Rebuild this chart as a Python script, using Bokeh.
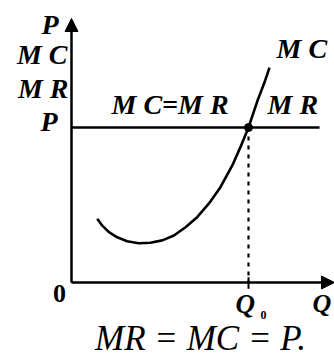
from bokeh.plotting import figure
from bokeh.models import Range1d, Label, Arrow, NormalHead
from bokeh.embed import file_html
from bokeh.resources import INLINE

# ---- data (model units) ----
mc_q = [1.02, 1.21, 1.48, 1.81, 2.20, 2.66, 3.12, 3.59, 4.05, 4.51, 4.97, 5.43, 5.89, 6.36,
        6.68, 7.0, 7.36, 7.63, 7.83]
mc_p = [2.47, 2.21, 1.95, 1.75, 1.60, 1.52, 1.54, 1.63, 1.82, 2.14, 2.53, 3.05, 3.69, 4.53,
        5.24, 6.0, 7.05, 7.74, 8.32]
price = 6.0          # P = MR level
q_star = 7.0         # Q0
mr_q = [0.0, 9.81]   # extent of MR line
axis_q_max = 10.40
axis_p_max = 10.22

# ---- layout helpers ----
W, H = 334, 360
SX, SY = 25.286, 25.833      # px per unit
OX, OY = 71, 282             # origin in picture pixels

def px(x, y):
    """picture pixel (from top-left) to data"""
    return (x - OX) / SX, (OY - y) / SY

x0, y1 = px(0, 0)
x1, y0 = px(W, H)

p = figure(width=W, height=H, x_range=Range1d(x0, x1), y_range=Range1d(y0, y1),
           output_backend="svg", toolbar_location=None, min_border=0)
p.axis.visible = False
p.grid.visible = False
p.outline_line_color = None
p.background_fill_color = "white"

BLACK = "black"

# axes with arrows
p.add_layout(Arrow(end=NormalHead(size=13, fill_color=BLACK, line_color=BLACK, line_width=1),
                   x_start=0, y_start=0, x_end=0, y_end=axis_p_max,
                   line_width=2.5, line_color=BLACK))
p.add_layout(Arrow(end=NormalHead(size=13, fill_color=BLACK, line_color=BLACK, line_width=1),
                   x_start=0, y_start=0, x_end=axis_q_max, y_end=0,
                   line_width=2.5, line_color=BLACK))

# MR = P horizontal line
p.line(mr_q, [price, price], line_width=2.5, line_color=BLACK)

# MC curve
p.line(mc_q, mc_p, line_width=2.6, line_color=BLACK, line_join="round")

# dotted drop line to Q0
p.line([q_star, q_star], [price, 0], line_width=2.2, line_color=BLACK, line_dash="4 5")
# tick at Q0
p.line([q_star, q_star], [0.2, -0.24], line_width=2, line_color=BLACK)

# equilibrium point
p.scatter([q_star], [price], size=8, color=BLACK)

FONT = "Liberation Serif"

def lab(text, x, y, align="left", size=28, style="bold italic"):
    # y is the wanted baseline; compensate the renderer's baseline offset
    dx, dy = px(x, y - 0.33 * size)
    p.add_layout(Label(x=dx, y=dy, text=text, text_align=align, text_baseline="alphabetic",
                       text_font=FONT, text_font_size=f"{size}px", text_font_style=style,
                       text_color=BLACK))

lab("P", 58, 33, "right")
lab("M C", 67, 63, "right")
lab("M R", 68, 97, "right")
lab("P", 57, 130, "right")
lab("M C=M R", 111, 113, "left")
lab("M R", 267, 113, "left")
lab("M C", 276, 57, "left")
lab("0", 59, 302, "center", 26, "bold")
lab("Q", 235, 312, "left", 27)
lab("0", 260, 318, "left", 12, "bold")
lab("Q", 312, 312, "left", 26)
lab("MR = MC = P.", 200, 350, "center", 35, "italic")

open("out.html", "w").write(file_html(p, INLINE))
